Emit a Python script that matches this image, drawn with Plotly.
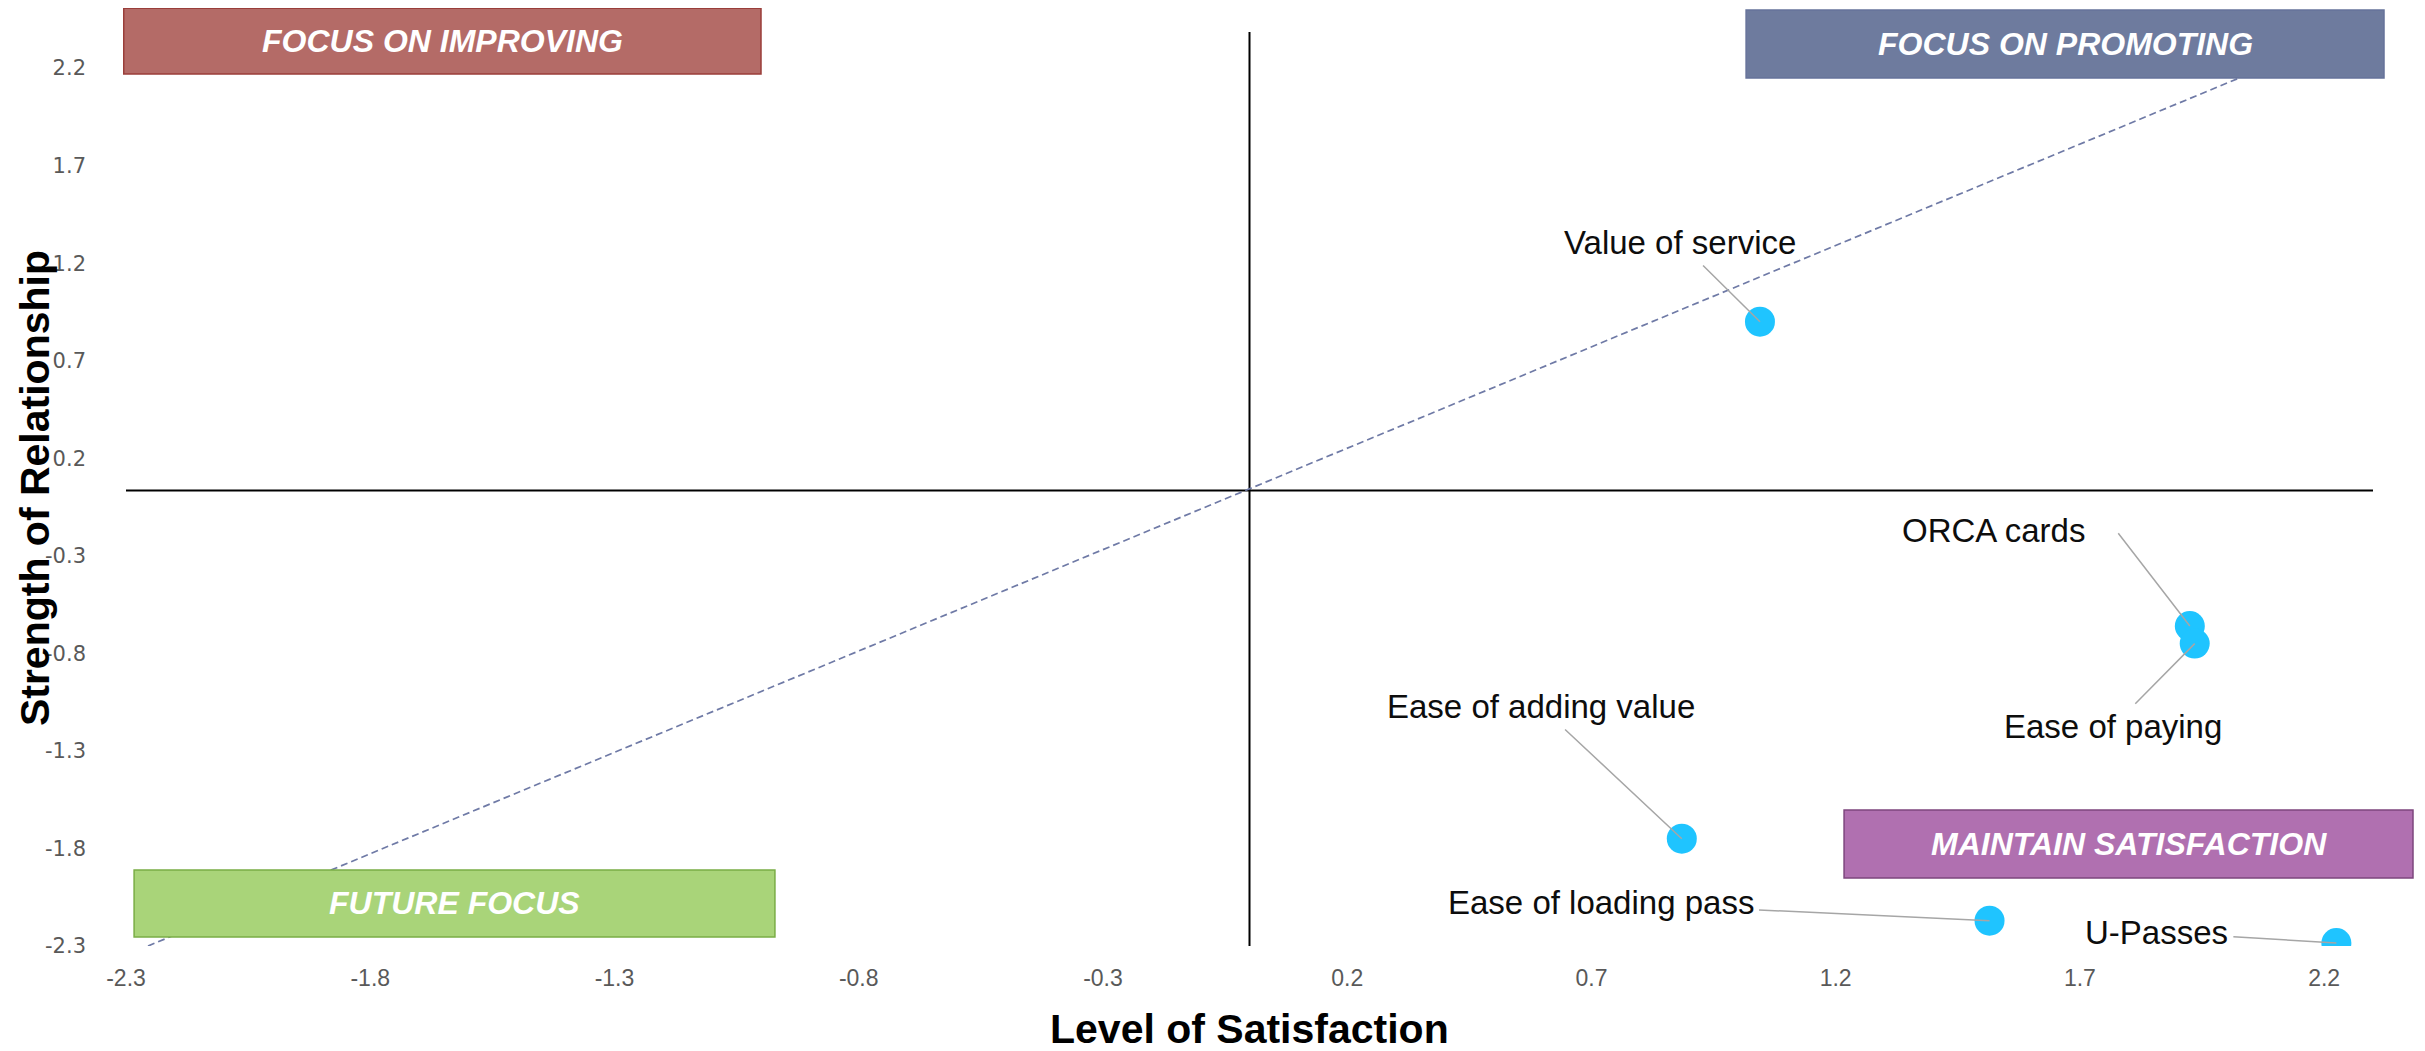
import plotly.graph_objects as go

# driver items
names = ["Value of service", "ORCA cards", "Ease of paying",
         "Ease of adding value", "Ease of loading pass", "U-Passes"]
satisfaction = [1.045, 1.925, 1.935, 0.885, 1.515, 2.225]
relationship = [0.90, -0.66, -0.75, -1.75, -2.17, -2.285]

# label placement: offset of the leader line end from the point (pixels) and text anchor
label_dx = [-80, -74, -82, -141, -389, -180]
label_dy = [-79, -96, 83, -132, -18, -11]
label_anchor = ["auto", "right", "auto", "auto", "auto", "auto"]
label_pad = [1, 30, 1, 1, 1, 1]

# diagonal reference line
trend_x = [-2.255, 2.253]
trend_y = [-2.3, 2.385]

# where the quadrant lines cross
cross_x = 0.0
cross_y = 0.035

tick_values = [-2.3, -1.8, -1.3, -0.8, -0.3, 0.2, 0.7, 1.2, 1.7, 2.2]
tick_labels = ["-2.3", "-1.8", "-1.3", "-0.8", "-0.3", "0.2", "0.7", "1.2", "1.7", "2.2"]

# quadrant boxes: text, fill, border, paper x0, x1, y0, y1
quadrants = [
    ("FOCUS ON IMPROVING", "#b46b67", "#9a3e3a", -0.001, 0.2826, 0.954, 1.026),
    ("FOCUS ON PROMOTING", "#6e7b9e", "#66739a", 0.721, 1.0049, 0.9497, 1.0241),
    ("FUTURE FOCUS", "#a9d479", "#7aad45", 0.0036, 0.2888, 0.0098, 0.0832),
    ("MAINTAIN SATISFACTION", "#b070b0", "#7d467d", 0.7646, 1.0178, 0.0744, 0.1488),
]

FONT = "Liberation Sans, Arial, sans-serif"

fig = go.Figure()

fig.add_trace(go.Scatter(
    x=trend_x, y=trend_y, mode="lines",
    line=dict(color="#6f7aa6", width=1.7, dash="7px,4px"),
    hoverinfo="skip",
))

fig.add_trace(go.Scatter(
    x=satisfaction, y=relationship, mode="markers", text=names,
    marker=dict(size=30, color="#1fc4ff"),
))

# quadrant divider lines
fig.add_shape(type="line", xref="x", yref="paper", x0=cross_x, x1=cross_x, y0=0, y1=1,
              line=dict(color="black", width=2), layer="below")
fig.add_shape(type="line", xref="paper", yref="y", x0=0, x1=1, y0=cross_y, y1=cross_y,
              line=dict(color="black", width=2), layer="below")

for text, fill, border, x0, x1, y0, y1 in quadrants:
    fig.add_shape(type="rect", xref="paper", yref="paper", x0=x0, x1=x1, y0=y0, y1=y1,
                  fillcolor=fill, line=dict(color=border, width=1.5), layer="above")
    fig.add_annotation(xref="paper", yref="paper", x=(x0 + x1) / 2, y=(y0 + y1) / 2,
                       xanchor="center", yanchor="middle",
                       text="<b><i>" + text + "</i></b>", showarrow=False,
                       font=dict(family=FONT, size=32, color="white"))

for i, name in enumerate(names):
    fig.add_annotation(x=satisfaction[i], y=relationship[i], text=name,
                       ax=label_dx[i], ay=label_dy[i],
                       xanchor=label_anchor[i], borderpad=label_pad[i],
                       showarrow=True, arrowhead=0, arrowwidth=1.5, arrowcolor="#a6a6a6",
                       standoff=0, startstandoff=4,
                       font=dict(family=FONT, size=33, color="#0d0d0d"))

# axis titles
fig.add_annotation(xref="paper", yref="paper", x=0.5, y=-0.091,
                   xanchor="center", yanchor="middle", text="<b>Level of Satisfaction</b>",
                   showarrow=False, font=dict(family=FONT, size=41, color="black"))
fig.add_annotation(xref="paper", yref="paper", x=-0.0405, y=0.501,
                   xanchor="center", yanchor="middle", text="<b>Strength of Relationship</b>",
                   textangle=-90, showarrow=False, font=dict(family=FONT, size=41, color="black"))

fig.update_xaxes(
    range=[-2.3, 2.3], showgrid=False, zeroline=False, showline=False, ticks="",
    tickvals=tick_values, ticktext=tick_labels, ticklabelstandoff=16,
    tickfont=dict(family=FONT, size=23, color="#595959"),
)
fig.update_yaxes(
    range=[-2.3, 2.385], showgrid=False, zeroline=False, showline=False, ticks="",
    tickvals=tick_values, ticktext=tick_labels, ticklabelstandoff=39,
    tickfont=dict(family="DejaVu Sans, sans-serif", size=21, color="#595959"),
)

fig.update_layout(
    width=2425, height=1051,
    margin=dict(l=118, r=60, t=24, b=113),
    plot_bgcolor="white", paper_bgcolor="white",
    showlegend=False,
)

fig.write_html("out.html")
